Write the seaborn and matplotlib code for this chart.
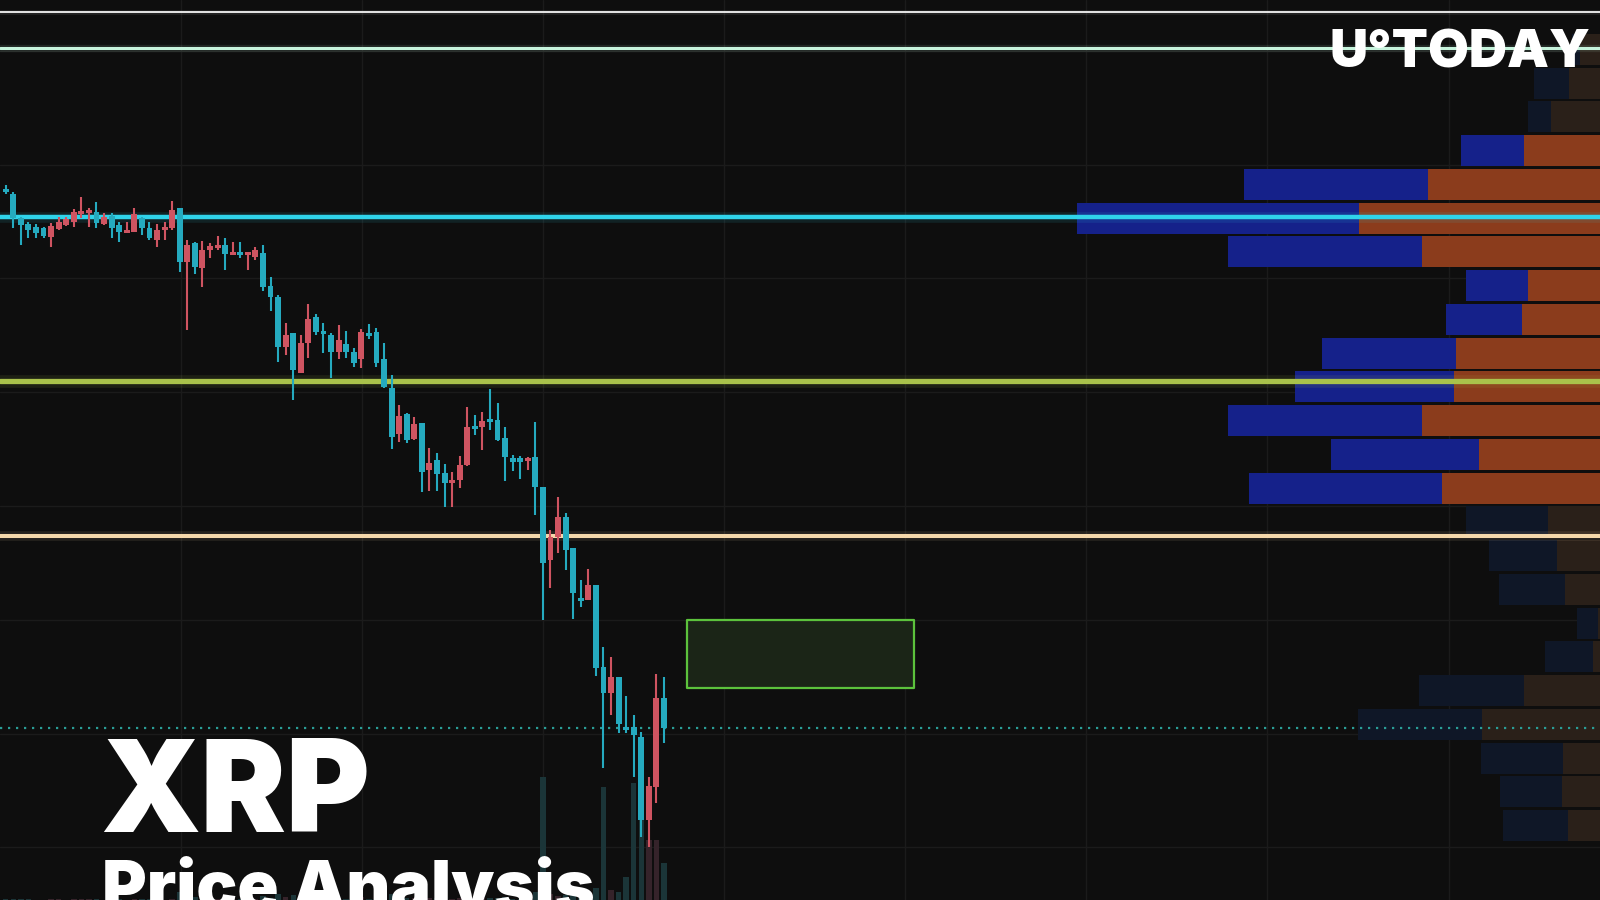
import numpy as np
import matplotlib
matplotlib.use("Agg")
import matplotlib.pyplot as plt
import seaborn as sns

# ---------------- candles (price axis in chart rows, smaller = higher price) ----------------
opens = [189, 194, 218, 224, 227, 228, 237, 229, 225, 222,
         213, 212, 212, 224, 216, 225, 233, 232, 218, 228,
         240, 229, 228, 208, 262, 243, 268, 250, 248, 245,
         254, 252, 255, 257, 253, 286, 297, 347, 333, 373,
         343, 317, 331, 335, 352, 344, 352, 359, 333, 332,
         359, 388, 434, 414, 439, 423, 470, 460, 473, 483,
         480, 465, 426, 427, 419, 420, 438, 458, 458, 461,
         457, 487, 560, 537, 517, 548, 598, 600, 585, 667,
         693, 677, 727, 727, 737, 820, 787, 698]
closes = [192, 218, 225, 230, 233, 236, 226, 222, 219, 212,
          211, 210, 223, 217, 228, 232, 230, 214, 228, 238,
          230, 227, 210, 262, 245, 267, 250, 246, 245, 254,
          252, 255, 252, 250, 287, 297, 347, 335, 370, 343,
          319, 332, 333, 352, 340, 352, 363, 332, 335, 363,
          387, 437, 416, 440, 424, 472, 463, 474, 483, 480,
          465, 427, 428, 421, 422, 440, 457, 462, 462, 458,
          487, 563, 537, 517, 550, 593, 600, 585, 668, 693,
          677, 724, 730, 735, 820, 786, 698, 728]
highs = [185, 192, 217, 222, 224, 227, 223, 217, 217, 209,
         197, 208, 202, 213, 213, 222, 222, 208, 217, 222,
         224, 222, 201, 208, 240, 242, 241, 243, 236, 238,
         242, 242, 252, 247, 245, 277, 295, 323, 333, 335,
         304, 314, 323, 333, 325, 331, 348, 329, 324, 328,
         343, 375, 405, 413, 417, 423, 448, 453, 464, 472,
         456, 407, 415, 412, 389, 403, 427, 455, 456, 457,
         422, 487, 530, 497, 513, 548, 580, 569, 585, 647,
         657, 677, 696, 715, 732, 777, 674, 677]
lows = [194, 228, 245, 238, 238, 238, 247, 230, 226, 227,
        218, 227, 228, 225, 238, 242, 233, 232, 235, 240,
        247, 240, 230, 272, 330, 274, 287, 258, 250, 270,
        255, 258, 270, 260, 291, 311, 362, 355, 400, 373,
        358, 335, 353, 378, 359, 358, 367, 368, 339, 367,
        388, 449, 442, 443, 440, 492, 491, 491, 507, 507,
        488, 466, 435, 450, 430, 441, 481, 471, 479, 470,
        515, 620, 588, 553, 570, 619, 607, 600, 676, 768,
        715, 733, 733, 777, 837, 847, 803, 743]
volumes = [1, 1, 1, 1, 0, 0, 1, 1, 0, 1, 1, 1, 1, 0, 1, 1, 0, 1, 1, 1, 1, 0, 1,
           8, 6, 3, 3, 1, 1, 2, 1, 1, 1, 1, 4, 2, 6, 3, 5, 3, 3, 1, 1,
           2, 2, 1, 1, 3, 1, 2,
           3, 6, 3, 2, 2, 5, 2, 2, 3, 1, 2, 4, 1, 2, 2, 2, 3, 1, 1, 1, 8,
           123, 6, 4, 5, 6, 2, 3, 12, 113, 10, 8, 23, 117, 110, 60, 60, 37]

# ---------------- levels and zone ----------------
levels = [12, 47.5, 217, 381, 536]
level_colors = ["#e6e6e6", "#c6f3dc", "#2fd3ea", "#a9c24b", "#f5d8ab"]
level_widths = [1.4, 2.2, 3.2, 3.8, 2.9]
last_price = 728
zone_start, zone_end = 90, 120
zone_top, zone_bottom = 620, 688

# ---------------- volume profile (right side) ----------------
profile_rows = [49.4, 83.1, 116.9, 150.6, 184.4, 218.1, 251.9, 285.6, 319.4, 353.1,
                386.9, 420.6, 454.4, 488.1, 521.9, 555.6, 589.4, 623.1, 656.9, 690.6,
                724.4, 758.1, 791.9, 825.6]
profile_up = [8, 35, 23, 63, 184, 282, 194, 62, 76, 134, 159, 194, 148, 193,
              82, 68, 66, 21, 48, 105, 124, 82, 62, 65]
profile_down = [20, 31, 49, 76, 172, 241, 178, 72, 78, 144, 146, 178, 121, 158,
                52, 43, 35, 2, 7, 76, 118, 37, 38, 32]
value_area = (3, 13)  # rows inside the value area

# grid spacing of the chart (x measured from the right edge for the profile axis)
grid_from_right = [1419, 1238, 1057, 876, 695, 514, 333, 151]
grid_rows = [51, 165, 278, 392, 506, 620, 734, 847]

BG = "#0e0e0e"
UP_C, DOWN_C = "#cf5461", "#25aabf"

sns.set_theme(style="dark", rc={"axes.facecolor": BG, "figure.facecolor": BG,
                                "grid.color": "#1d1d1d", "axes.edgecolor": BG})
plt.rcParams['font.family'] = ['Inter', 'Lato', 'DejaVu Sans']

fig = plt.figure(figsize=(16, 9), dpi=100)
prof_ax = fig.add_axes([0, 0, 1, 1])
vol_ax = fig.add_axes([0, 0, 1, 1])
ax = fig.add_axes([0, 0, 1, 1])
for a, z in [(prof_ax, 0), (vol_ax, 1), (ax, 2)]:
    a.set_zorder(z)
vol_ax.patch.set_alpha(0)
ax.patch.set_alpha(0)

xlim = (-0.753, 210.7)
idx = np.arange(len(opens))
o, c, h, l = map(np.array, (opens, closes, highs, lows))
falling = c > o
col = np.where(falling, DOWN_C, UP_C)

# volume profile, measured from the right edge (grid sits under it)
rows = np.array(profile_rows)
up = np.array(profile_up)
dn = np.array(profile_down)
bright = (np.arange(len(rows)) >= value_area[0]) & (np.arange(len(rows)) <= value_area[1])
prof_ax.set_xlim(1600, 0)
prof_ax.set_ylim(900, 0)
prof_ax.set_xticks(grid_from_right)
prof_ax.set_yticks(grid_rows)
prof_ax.grid(True, color="#1b1b1b", linewidth=1)
prof_ax.set_axisbelow(True)
prof_ax.barh(rows, dn, left=0, height=31, color=np.where(bright, "#8b3c1c", "#2a2019"), linewidth=0)
prof_ax.barh(rows, up, left=dn, height=31, color=np.where(bright, "#15218a", "#0f1727"), linewidth=0)

# volume bars
vol_ax.bar(idx, volumes, width=0.72, color=np.where(falling, "#1b3538", "#35232a"), linewidth=0)
vol_ax.set_xlim(*xlim)
vol_ax.set_ylim(0, 900)
vol_ax.grid(False)

# levels, zone, candles
ax.set_xlim(*xlim)
ax.set_ylim(900, 0)
ax.grid(False)

for lv, lc, lw in zip(levels, level_colors, level_widths):
    ax.axhline(lv, color=lc, linewidth=lw * 2.4, alpha=0.10, zorder=2)
    ax.axhline(lv, color=lc, linewidth=lw, zorder=3)
ax.axhline(last_price, color="#2a9d96", linewidth=1.6, linestyle=(0, (1, 2.6)), zorder=3)

ax.fill_between([zone_start, zone_end], zone_top, zone_bottom, facecolor="#1b2517",
                edgecolor="#5cc23c", linewidth=1.6, zorder=3)

ax.vlines(idx, h, l, color=col, linewidth=1.5, zorder=4)
body_h = np.maximum(np.abs(c - o), 2.5)
ax.bar(idx, body_h, bottom=np.minimum(o, c), width=0.78, color=col, linewidth=0, zorder=5)

for a in (prof_ax, vol_ax, ax):
    a.tick_params(left=False, bottom=False, labelleft=False, labelbottom=False)
    for s in a.spines.values():
        s.set_visible(False)

# titles
fig.text(100 / 1600, 1 - 832 / 900, "XRP", color="white", fontsize=92, fontweight="black",
         ha="left", va="baseline", zorder=10)
fig.text(102 / 1600, 1 - 910 / 900, "Price Analysis", color="white", fontsize=49,
         fontweight="black", ha="left", va="baseline", zorder=10)
fig.text(1590 / 1600, 1 - 67 / 900, "U°TODAY", color="white", fontsize=38,
         fontweight="black", ha="right", va="baseline", zorder=10)

fig.savefig("out.png", dpi=100, facecolor=BG)
